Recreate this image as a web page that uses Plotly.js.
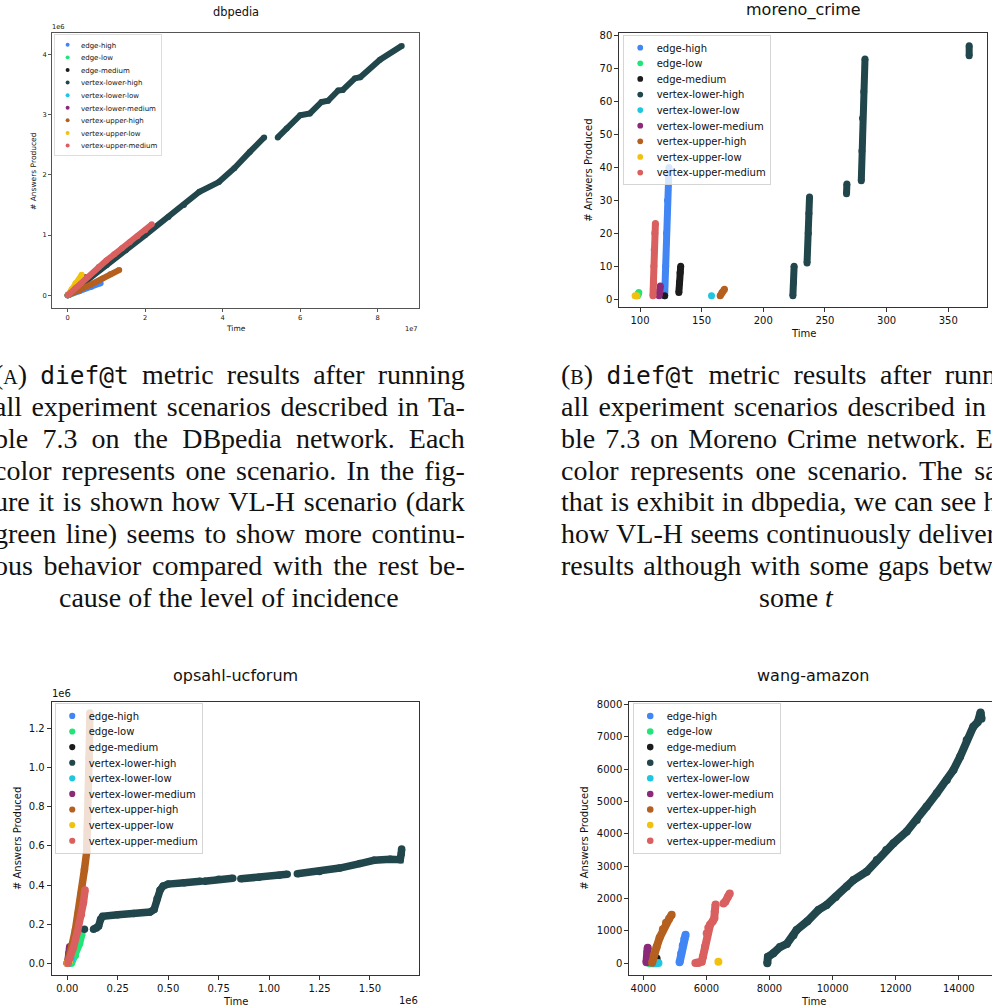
<!DOCTYPE html>
<html>
<head>
<meta charset="utf-8">
<script src="https://cdn.plot.ly/plotly-3.0.1.min.js"></script>
<style>
  html, body { margin: 0; padding: 0; overflow: hidden; background: #fff; }
  #chart { width: 1000px; height: 1008px; }
</style>
</head>
<body>
<div id="chart"></div>
<script>
// ---------------- DATA ----------------
const scenarioNames = ['edge-high','edge-low','edge-medium','vertex-lower-high','vertex-lower-low',
  'vertex-lower-medium','vertex-upper-high','vertex-upper-low','vertex-upper-medium'];

// dbpedia (time, answers)
const dbpEdgeHighT = [0, 0.3e7, 0.6e7, 0.85e7];
const dbpEdgeHighN = [0, 0.07e6, 0.14e6, 0.2e6];
const dbpEdgeLowT = [0, 0.1e7];
const dbpEdgeLowN = [0, 0.03e6];
const dbpEdgeMedT = [0, 0.2e7, 0.45e7];
const dbpEdgeMedN = [0, 0.12e6, 0.3e6];
const dbpVLHighT = [0, 0.5e7, 1.0e7, 1.5e7, 2.0e7, 2.6e7, 3.0e7, 3.4e7, 3.9e7, 4.3e7, 4.7e7, 5.07e7, null,
  5.42e7, 5.65e7, 6.0e7, 6.25e7, 6.55e7, 6.72e7, 6.98e7, 7.1e7, 7.41e7, 7.55e7, 8.06e7, 8.62e7];
const dbpVLHighN = [0, 0.26e6, 0.5e6, 0.75e6, 1.0e6, 1.3e6, 1.5e6, 1.72e6, 1.88e6, 2.11e6, 2.38e6, 2.62e6, null,
  2.62e6, 2.77e6, 2.99e6, 3.02e6, 3.21e6, 3.23e6, 3.40e6, 3.41e6, 3.60e6, 3.62e6, 3.91e6, 4.14e6];
const dbpVLLowT = [0, 0.05e7];
const dbpVLLowN = [0, 0.01e6];
const dbpVLMedT = [0, 0.1e7];
const dbpVLMedN = [0, 0.05e6];
const dbpVUHighT = [0, 0.3e7, 0.6e7, 0.9e7, 1.1e7, 1.33e7];
const dbpVUHighN = [0, 0.08e6, 0.18e6, 0.28e6, 0.35e6, 0.42e6];
const dbpVULowT = [0, 0.1e7, 0.2e7, 0.36e7];
const dbpVULowN = [0, 0.1e6, 0.2e6, 0.34e6];
const dbpVUMedT = [0, 0.2e7, 0.5e7, 0.8e7, 1.0e7, 1.2e7, 1.4e7, 1.6e7, 1.8e7, 2.0e7, 2.17e7];
const dbpVUMedN = [0, 0.12e6, 0.3e6, 0.47e6, 0.58e6, 0.68e6, 0.78e6, 0.88e6, 0.98e6, 1.08e6, 1.18e6];

// moreno_crime
const morEdgeHighT = [120, 120.8, 121.5, 122.3, 123.5];
const morEdgeHighN = [1, 10, 20, 30, 40];
const morEdgeLowT = [98, 98.5, 99];
const morEdgeLowN = [1, 1.5, 2];
const morEdgeMedT = [120, null, 131.5, 132, 132.5, 133];
const morEdgeMedN = [1, null, 2, 5, 8, 10];
const morVLHighT = [224, 224.5, 225, null, 235.5, 236.5, 237, 237.5, null, 267.5, 267.8, null,
  279.5, 280, 280.5, 281.5, 282.5, null, 367, 367];
const morVLHighN = [1, 5, 10, null, 11, 20, 26, 31, null, 32, 35, null,
  36, 45, 55, 63, 73, null, 74, 77];
const morVLLowT = [158];
const morVLLowN = [1];
const morVLMedT = [115.5, 116, 116.5];
const morVLMedN = [1, 2.5, 4];
const morVUHighT = [165, 166.5, 168.5];
const morVUHighN = [1, 2, 3];
const morVULowT = [96, 97.5];
const morVULowN = [1, 1];
const morVUMedT = [110.5, 111, 111.2, 111.5, 112, 112.5];
const morVUMedN = [1, 5, 10, 15, 20, 23];

// opsahl-ucforum
const opsEdgeHighT = [0, 0.02e6];
const opsEdgeHighN = [0, 0.03e6];
const opsEdgeLowT = [0.02e6, 0.04e6, 0.06e6, 0.072e6];
const opsEdgeLowN = [0, 0.04e6, 0.1e6, 0.15e6];
const opsEdgeMedT = [0, 0.01e6];
const opsEdgeMedN = [0, 0.02e6];
const opsVLHighT = [0.085e6, null, 0.13e6, 0.145e6, 0.155e6, 0.165e6, 0.175e6, 0.25e6, 0.33e6, 0.41e6, 0.43e6,
  0.445e6, 0.46e6, 0.475e6, 0.5e6, 0.58e6, 0.66e6, null, 0.68e6, 0.75e6, 0.82e6, null,
  0.86e6, 0.95e6, 1.05e6, 1.09e6, null, 1.14e6, 1.25e6, 1.35e6, 1.45e6, 1.52e6, 1.6e6, 1.65e6, 1.655e6, 1.657e6];
const opsVLHighN = [0.174e6, null, 0.174e6, 0.18e6, 0.19e6, 0.225e6, 0.24e6, 0.248e6, 0.255e6, 0.262e6, 0.275e6,
  0.33e6, 0.375e6, 0.395e6, 0.405e6, 0.412e6, 0.42e6, null, 0.42e6, 0.43e6, 0.435e6, null,
  0.432e6, 0.44e6, 0.45e6, 0.455e6, null, 0.458e6, 0.47e6, 0.487e6, 0.51e6, 0.527e6, 0.532e6, 0.53e6, 0.56e6, 0.585e6];
const opsVLLowT = [0.005e6, 0.02e6];
const opsVLLowN = [0, 0.02e6];
const opsVLMedT = [0.002e6, 0.008e6, 0.012e6];
const opsVLMedN = [0, 0.05e6, 0.085e6];
const opsVUHighT = [0, 0.01e6, 0.022e6, 0.04e6, 0.055e6, 0.07e6, 0.085e6, 0.096e6, 0.1e6, 0.104e6, 0.108e6, 0.112e6];
const opsVUHighN = [0, 0.03e6, 0.085e6, 0.17e6, 0.256e6, 0.36e6, 0.48e6, 0.57e6, 0.68e6, 0.85e6, 1.05e6, 1.28e6];
const opsVULowT = [0, 0.01e6];
const opsVULowN = [0, 0.01e6];
const opsVUMedT = [0.003e6, 0.015e6, 0.03e6, 0.05e6, 0.07e6, 0.08e6, 0.088e6];
const opsVUMedN = [0, 0.03e6, 0.08e6, 0.16e6, 0.25e6, 0.31e6, 0.375e6];

// wang-amazon
const wanEdgeHighT = [5150, 5200, 5250, 5300, 5340];
const wanEdgeHighN = [30, 300, 550, 750, 880];
const wanEdgeLowT = [4200, 4300];
const wanEdgeLowN = [0, 10];
const wanEdgeMedT = [4400, 4420];
const wanEdgeMedN = [50, 150];
const wanVLHighT = [7930, 7950, 8120, 8330, 8550, 8760, 8860, 9200, 9550, 9810, 10100, 10450, 10660, 11080,
  11400, 11700, 11930, 12350, 12670, 12980, 13300, 13620, 13830, 14040, 14250, 14460, 14600, 14680, 14690, 14720];
const wanVLHighN = [0, 200, 310, 500, 600, 870, 1030, 1300, 1650, 1800, 2050, 2370, 2570, 2830,
  3190, 3500, 3710, 4070, 4430, 4840, 5250, 5660, 5970, 6380, 6900, 7310, 7450, 7600, 7750, 7550];
const wanVLLowT = [4300, 4400, 4480];
const wanVLLowN = [0, 0, 10];
const wanVLMedT = [4100, 4120, 4130, 4140];
const wanVLMedN = [30, 200, 350, 480];
const wanVUHighT = [4280, 4330, 4420, 4520, 4620, 4720, 4820, 4900];
const wanVUHighN = [20, 250, 500, 800, 1050, 1250, 1380, 1500];
const wanVULowT = [6380];
const wanVULowN = [50];
const wanVUMedT = [5650, 5750, 5850, 5890, 5955, 6010, 6060, 6115, 6200, 6250, 6265, 6290, null, 6540, 6600, 6680, 6740];
const wanVUMedN = [10, 10, 50, 200, 510, 930, 1100, 1190, 1300, 1390, 1600, 1820, null, 1850, 1900, 2050, 2160];

// tick labels
const dbpXTickVals = [0, 2e7, 4e7, 6e7, 8e7];
const dbpXTickText = ['0', '2', '4', '6', '8'];
const dbpYTickVals = [0, 1e6, 2e6, 3e6, 4e6];
const dbpYTickText = ['0', '1', '2', '3', '4'];
const opsXTickVals = [0, 0.25e6, 0.5e6, 0.75e6, 1.0e6, 1.25e6, 1.5e6];
const opsXTickText = ['0.00', '0.25', '0.50', '0.75', '1.00', '1.25', '1.50'];
const opsYTickVals = [0, 0.2e6, 0.4e6, 0.6e6, 0.8e6, 1.0e6, 1.2e6];
const opsYTickText = ['0.0', '0.2', '0.4', '0.6', '0.8', '1.0', '1.2'];

// captions
const captionA = [
  '(<span style="font-size:20px">A</span>) <span style="font-family:DejaVu Sans Mono;font-size:24.5px">dief@t</span> metric results after running',
  'all experiment scenarios described in Ta-',
  'ble 7.3 on the DBpedia network. Each',
  'color represents one scenario. In the fig-',
  'ure it is shown how VL-H scenario (dark',
  'green line) seems to show more continu-',
  'ous behavior compared with the rest be-',
  'cause of the level of incidence'
];
const captionB = [
  '(<span style="font-size:20px">B</span>) <span style="font-family:DejaVu Sans Mono;font-size:24.5px">dief@t</span> metric results after running',
  'all experiment scenarios described in Ta-',
  'ble 7.3 on Moreno Crime network. Each',
  'color represents one scenario. The same',
  'that is exhibit in dbpedia, we can see here',
  'how VL-H seems continuously delivering',
  'results although with some gaps between',
  'some <i>t</i>'
];

// ---------------- STYLE ----------------
const COLORS = ['#4186f4', '#22e57a', '#1c1c1c', '#21464b', '#1ec6e0', '#8b2a78', '#b5601f', '#f0c20f', '#d9605f'];
const W = 1000, H = 1008;
const fx = px => px / W;
const fy = py => 1 - py / H;

const panels = [
  { xa: 'x', ya: 'y', leg: 'legend', size: 6,
    series: [[dbpEdgeHighT, dbpEdgeHighN], [dbpEdgeLowT, dbpEdgeLowN], [dbpEdgeMedT, dbpEdgeMedN],
             [dbpVLHighT, dbpVLHighN], [dbpVLLowT, dbpVLLowN], [dbpVLMedT, dbpVLMedN],
             [dbpVUHighT, dbpVUHighN], [dbpVULowT, dbpVULowN], [dbpVUMedT, dbpVUMedN]] },
  { xa: 'x2', ya: 'y2', leg: 'legend2', size: 7,
    series: [[morEdgeHighT, morEdgeHighN], [morEdgeLowT, morEdgeLowN], [morEdgeMedT, morEdgeMedN],
             [morVLHighT, morVLHighN], [morVLLowT, morVLLowN], [morVLMedT, morVLMedN],
             [morVUHighT, morVUHighN], [morVULowT, morVULowN], [morVUMedT, morVUMedN]] },
  { xa: 'x3', ya: 'y3', leg: 'legend3', size: 7.5,
    series: [[opsEdgeHighT, opsEdgeHighN], [opsEdgeLowT, opsEdgeLowN], [opsEdgeMedT, opsEdgeMedN],
             [opsVLHighT, opsVLHighN], [opsVLLowT, opsVLLowN], [opsVLMedT, opsVLMedN],
             [opsVUHighT, opsVUHighN], [opsVULowT, opsVULowN], [opsVUMedT, opsVUMedN]] },
  { xa: 'x4', ya: 'y4', leg: 'legend4', size: 8,
    series: [[wanEdgeHighT, wanEdgeHighN], [wanEdgeLowT, wanEdgeLowN], [wanEdgeMedT, wanEdgeMedN],
             [wanVLHighT, wanVLHighN], [wanVLLowT, wanVLLowN], [wanVLMedT, wanVLMedN],
             [wanVUHighT, wanVUHighN], [wanVULowT, wanVULowN], [wanVUMedT, wanVUMedN]] }
];

const data = [];
panels.forEach(p => {
  p.series.forEach((s, i) => {
    data.push({ type: 'scatter', mode: 'lines', x: s[0], y: s[1], xaxis: p.xa, yaxis: p.ya,
      line: { color: COLORS[i], width: p.size }, connectgaps: false, showlegend: false, hoverinfo: 'skip' });
    data.push({ type: 'scatter', mode: 'markers', x: s[0], y: s[1], xaxis: p.xa, yaxis: p.ya,
      name: scenarioNames[i], legend: p.leg,
      marker: { color: COLORS[i], size: p.size, line: { width: 0 } } });
  });
});

const FONT = 'DejaVu Sans';
const TXT = '#111';
function axis(domain, range, extra, small) {
  return Object.assign({
    domain: domain, range: range, autorange: false,
    showgrid: false, zeroline: false, showline: true, mirror: true,
    linecolor: small ? '#555' : '#333', linewidth: 1,
    ticks: 'outside', ticklen: small ? 3 : 4, tickwidth: 1, tickcolor: small ? '#555' : '#333',
    tickfont: { family: FONT, size: small ? 6.7 : 10, color: TXT }
  }, extra);
}

function legendCfg(xpx, ypx, fontSize) {
  return { x: fx(xpx), y: fy(ypx), xref: 'paper', yref: 'paper', xanchor: 'left', yanchor: 'top',
    bgcolor: 'rgba(255,255,255,0.8)', bordercolor: '#cccccc', borderwidth: 1,
    font: { family: FONT, size: fontSize, color: TXT }, tracegroupgap: 0, itemwidth: 30 };
}

const ann = [];
function txt(text, xpx, ypx, size, opts) {
  ann.push(Object.assign({ text: text, x: fx(xpx), y: fy(ypx), xref: 'paper', yref: 'paper',
    showarrow: false, xanchor: 'center', yanchor: 'middle',
    font: { family: FONT, size: size, color: TXT } }, opts || {}));
}
// subplot titles
txt('dbpedia', 235.5, 11.7, 11.4);
txt('moreno_crime', 803, 10, 16);
txt('opsahl-ucforum', 235.3, 675, 16);
txt('wang-amazon', 813.4, 675, 16);
// axis titles
txt('Time', 235.5, 328.5, 7.5);
txt('# Answers Produced', 33.3, 170.7, 7.5, { textangle: -90 });
txt('Time', 803, 333.3, 10);
txt('# Answers Produced', 588.3, 170.5, 10, { textangle: -90 });
txt('Time', 235.3, 1001.7, 10);
txt('# Answers Produced', 17.3, 838.8, 10, { textangle: -90 });
txt('Time', 813.4, 1001.7, 10);
txt('# Answers Produced', 585, 838.8, 10, { textangle: -90 });
// offset labels
txt('1e6', 58, 27.3, 6.7);
txt('1e7', 411.7, 328.5, 6.7);
txt('1e6', 61, 693.3, 10);
txt('1e6', 408.3, 1000.7, 10);
// captions (justified lines get stretched to the column width after drawing)
const capY0 = 374.7, capDy = 31.8, capWidth = 470.8;
const justify = [];
function caption(lines, leftPx, centerPx) {
  lines.forEach((line, i) => {
    const last = i === lines.length - 1;
    if (!last) justify.push(ann.length);
    ann.push({ text: line, x: fx(last ? centerPx : leftPx - 2), y: fy(capY0 + capDy * i), xref: 'paper', yref: 'paper',
      showarrow: false, xanchor: last ? 'center' : 'left', yanchor: 'middle', align: 'left',
      font: { family: 'Liberation Serif', size: 28, color: TXT } });
  });
}
caption(captionA, -6.5, 228.5);
caption(captionB, 561, 796);

const layout = {
  width: W, height: H, margin: { l: 0, r: 0, t: 0, b: 0, pad: 0 },
  paper_bgcolor: '#fff', plot_bgcolor: '#fff',
  font: { family: FONT, color: TXT },
  hovermode: false,
  xaxis: axis([fx(52), fx(419)], [-0.405e7, 9.066e7], { anchor: 'y', tickvals: dbpXTickVals, ticktext: dbpXTickText }, true),
  yaxis: axis([fy(308), fy(33)], [-0.21e6, 4.354e6], { anchor: 'x', tickvals: dbpYTickVals, ticktext: dbpYTickText }, true),
  xaxis2: axis([fx(619.3), fx(987.3)], [83.2, 381.7], { anchor: 'y2', tick0: 100, dtick: 50 }),
  yaxis2: axis([fy(307.3), fy(33.3)], [-2.5, 80.8], { anchor: 'x2', tick0: 0, dtick: 10 }),
  xaxis3: axis([fx(51.7), fx(419)], [-0.0773e6, 1.743e6], { anchor: 'y3', tickvals: opsXTickVals, ticktext: opsXTickText }),
  yaxis3: axis([fy(975), fy(701.7)], [-0.0598e6, 1.338e6], { anchor: 'x3', tickvals: opsYTickVals, ticktext: opsYTickText }),
  xaxis4: axis([fx(629.3), fx(997.6)], [3556, 15230], { anchor: 'y4', tick0: 4000, dtick: 2000, tickformat: 'd' }),
  yaxis4: axis([fy(975), fy(701.7)], [-361, 8080], { anchor: 'x4', tick0: 0, dtick: 1000, tickformat: 'd' }),
  legend: legendCfg(53.7, 34.5, 10.6),
  legend2: legendCfg(623, 35, 12.2),
  legend3: legendCfg(55, 703.2, 12.2),
  legend4: legendCfg(633, 703.2, 12.2),
  annotations: ann
};

const legendScale = { legend: 0.663, legend2: 0.821, legend3: 0.821, legend4: 0.821 };

Plotly.newPlot('chart', data, layout, { staticPlot: true, displayModeBar: false }).then(gd => {
  Object.keys(legendScale).forEach(id => {
    const g = gd.querySelector('.infolayer > g.' + id);
    if (g) {
      const tr = g.getAttribute('transform') || '';
      g.setAttribute('transform', tr + ' scale(' + legendScale[id] + ')');
    }
  });
  justify.forEach(idx => {
    const t = gd.querySelector('g.annotation[data-index="' + idx + '"] text.annotation-text');
    if (!t) return;
    const spaces = (t.textContent.match(/ /g) || []).length;
    const w = t.getComputedTextLength();
    if (spaces > 0 && w < capWidth) {
      t.style.wordSpacing = ((capWidth - w) / spaces) + 'px';
    }
  });
});
</script>
</body>
</html>
